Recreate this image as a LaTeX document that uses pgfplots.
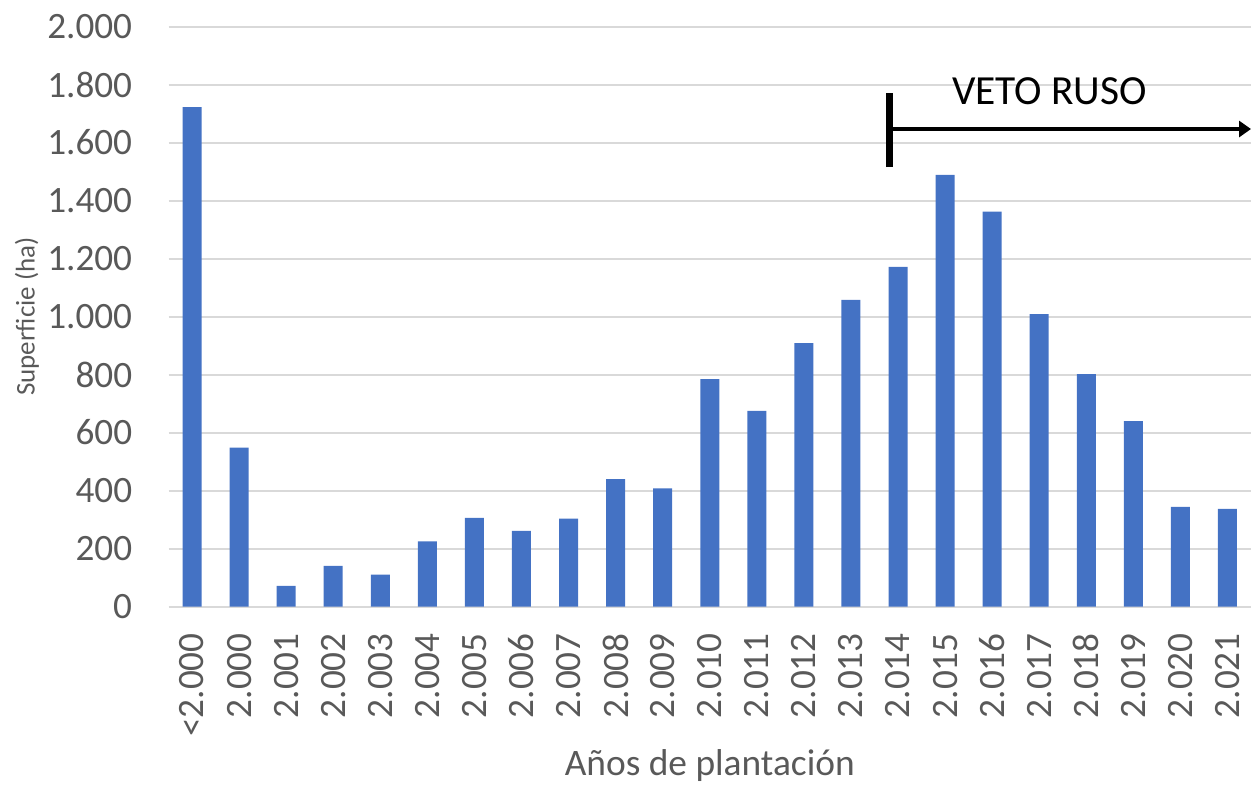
\documentclass[border=0pt]{standalone}
\usepackage{pgfplots}
\pgfplotsset{compat=1.18}
\usepackage{pgfplotstable}
\usetikzlibrary{arrows.meta}
\usepackage{fontspec}
\setmainfont{Carlito}
\definecolor{barblue}{HTML}{4472C4}
\definecolor{gridgray}{HTML}{D9D9D9}
\definecolor{textgray}{HTML}{595959}

\pgfplotstableread{
x y
0 1722
1 548
2 71
3 140
4 110
5 225
6 306
7 261
8 303
9 439
10 407
11 784
12 675
13 908
14 1057
15 1171
16 1488
17 1362
18 1008
19 801
20 639
21 344
22 337
}\datatable

\begin{document}
\begin{tikzpicture}
\begin{axis}[
  at={(84.25pt,88.75pt)}, anchor=south west,
  scale only axis, width=541.25pt, height=290pt,
  xmin=-0.5, xmax=22.5, ymin=0, ymax=2000,
  axis line style={draw=none},
  major tick length=0pt,
  ymajorgrids, grid style={gridgray, line width=1pt},
  ytick={0,200,...,2000},
  yticklabels={0,200,400,600,800,1.000,1.200,1.400,1.600,1.800,2.000},
  xtick={0,...,22},
  xticklabels={{<2.000},{2.000},{2.001},{2.002},{2.003},{2.004},{2.005},{2.006},{2.007},{2.008},{2.009},{2.010},{2.011},{2.012},{2.013},{2.014},{2.015},{2.016},{2.017},{2.018},{2.019},{2.020},{2.021}},
  yticklabel style={font=\fontsize{18.6}{22}\selectfont, text=textgray, anchor=east, inner sep=0pt, xshift=-18pt},
  xticklabel style={font=\fontsize{18.6}{22}\selectfont, text=textgray, yshift=-13.25pt, rotate=90, anchor=east, inner sep=0pt},
  ylabel={Superficie (ha)},
  ylabel style={font=\fontsize{13.5}{16}\selectfont, text=textgray, at={(axis description cs:-0.1307,0.5)}, anchor=center, rotate=0},
  xlabel={Años de plantación},
  xlabel style={font=\fontsize{18.7}{22}\selectfont, text=textgray, at={(axis description cs:0.5,-0.2915)}, anchor=base},
  clip=false,
]
\addplot[ybar, bar width=9.5pt, fill=barblue, draw=none] table[x=x,y=y] {\datatable};
\draw[line width=3.2pt] (axis cs:14.82,1515) -- (axis cs:14.82,1771);
\draw[line width=2.4pt, -{Triangle[length=6pt,width=8pt]}] (axis cs:14.82,1646.5) -- (axis cs:22.5,1646.5);
\node[font=\fontsize{20.7}{24}\selectfont, text=black, anchor=center, inner sep=0pt] at (axis cs:18.22,1776) {VETO RUSO};
\end{axis}
\pgfresetboundingbox
\path (0,0) rectangle (625.5pt,392pt);
\end{tikzpicture}
\end{document}
